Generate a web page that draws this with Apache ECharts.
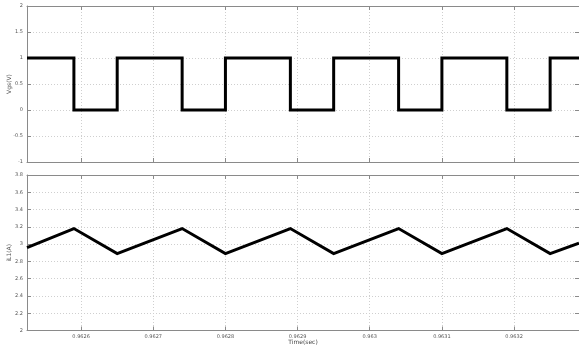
<!DOCTYPE html>
<html>
<head>
<meta charset="utf-8">
<script src="https://cdn.jsdelivr.net/npm/echarts@6/dist/echarts.min.js"></script>
<style>
html,body{margin:0;padding:0;background:#fff;}
#chart{width:579px;height:347px;}
</style>
</head>
<body>
<div id="chart"></div>
<script>
// Time window (sec)
var timeMin = 0.962525;
var timeMax = 0.96329;
var timeTicks = [0.9626, 0.9627, 0.9628, 0.9629, 0.963, 0.9631, 0.9632];

// Vgs square wave (time, value) — step corners
var vgsTime  = [0.962525, 0.96259, 0.96259, 0.96265, 0.96265, 0.96274, 0.96274, 0.9628, 0.9628, 0.96289, 0.96289, 0.96295, 0.96295, 0.96304, 0.96304, 0.9631, 0.9631, 0.96319, 0.96319, 0.96325, 0.96325, 0.96329];
var vgsValue = [1, 1, 0, 0, 1, 1, 0, 0, 1, 1, 0, 0, 1, 1, 0, 0, 1, 1, 0, 0, 1, 1];

// iL1 triangle wave (time, value)
var iTime  = [0.962525, 0.96259, 0.96265, 0.96274, 0.9628, 0.96289, 0.96295, 0.96304, 0.9631, 0.96319, 0.96325, 0.96329];
var iValue = [2.96, 3.18, 2.89, 3.18, 2.89, 3.18, 2.89, 3.18, 2.89, 3.18, 2.89, 3.01];

// Y tick labels
var vgsTicks = [-1, -0.5, 0, 0.5, 1, 1.5, 2];
var iTicks = [2, 2.2, 2.4, 2.6, 2.8, 3, 3.2, 3.4, 3.6, 3.8];

function pairs(xs, ys){ return xs.map(function(x,i){ return [x, ys[i]]; }); }
function fmtT(v){ return String(parseFloat(v.toFixed(4))); }

var axisCol = '#8a8a8a';
var gridCol = '#cfcfcf';
var labelStyle = {color:'#555', fontSize:5, fontFamily:'DejaVu Sans'};

function xAxisDef(gridIndex, showLabel, position, name){
  return {
    type:'value', gridIndex:gridIndex, min:timeMin, max:timeMax, position:position,
    axisLine:{show:true, onZero:false, lineStyle:{color:axisCol, width:1}},
    axisTick:{show:true, inside:true, length:4, customValues:timeTicks, lineStyle:{color:axisCol}},
    axisLabel:{show:showLabel, customValues:timeTicks, formatter:fmtT, margin:4, color:labelStyle.color, fontSize:labelStyle.fontSize, fontFamily:labelStyle.fontFamily},
    splitLine:{show:position==='bottom', lineStyle:{color:gridCol, type:[1,2], width:1}},
    name:name||'', nameLocation:'middle', nameGap:9, nameMoveOverlap:false,
    nameTextStyle:{color:'#444', fontSize:6, fontFamily:'DejaVu Sans'}
  };
}
function yAxisDef(gridIndex, min, max, interval, ticks, name, position){
  var left = position==='left';
  return {
    type:'value', gridIndex:gridIndex, min:min, max:max, interval:interval, position:position,
    axisLine:{show:true, lineStyle:{color:axisCol, width:1}},
    axisTick:{show:true, inside:true, length:4, lineStyle:{color:axisCol}},
    axisLabel:{show:left, margin:4, color:labelStyle.color, fontSize:labelStyle.fontSize, fontFamily:labelStyle.fontFamily,
      formatter:function(v){ return String(parseFloat(v.toFixed(2))); }},
    splitLine:{show:left, lineStyle:{color:gridCol, type:[1,2], width:1}},
    name:left?name:'', nameLocation:'middle', nameGap:15, nameMoveOverlap:false,
    nameTextStyle:{color:'#555', fontSize:6, fontFamily:'DejaVu Sans'}
  };
}

var chart = echarts.init(document.getElementById('chart'), null, {renderer:'canvas'});
chart.setOption({
  animation:false,
  backgroundColor:'#fff',
  grid:[
    {left:27, right:0, top:6, height:156, containLabel:false, outerBoundsMode:'none'},
    {left:27, right:0, top:175, height:155.5, containLabel:false, outerBoundsMode:'none'}
  ],
  xAxis:[
    xAxisDef(0, false, 'bottom'),
    xAxisDef(0, false, 'top'),
    xAxisDef(1, true, 'bottom', 'Time(sec)'),
    xAxisDef(1, false, 'top')
  ],
  yAxis:[
    yAxisDef(0, -1, 2, 0.5, vgsTicks, 'Vgs(V)', 'left'),
    yAxisDef(0, -1, 2, 0.5, vgsTicks, '', 'right'),
    yAxisDef(1, 2, 3.8, 0.2, iTicks, 'iL1(A)', 'left'),
    yAxisDef(1, 2, 3.8, 0.2, iTicks, '', 'right')
  ],
  series:[
    {type:'line', xAxisIndex:0, yAxisIndex:0, data:pairs(vgsTime, vgsValue), showSymbol:false,
     lineStyle:{color:'#000', width:3, join:'miter'}},
    {type:'line', xAxisIndex:2, yAxisIndex:2, data:pairs(iTime, iValue), showSymbol:false,
     lineStyle:{color:'#000', width:3, join:'miter'}}
  ]
});
</script>
</body>
</html>
